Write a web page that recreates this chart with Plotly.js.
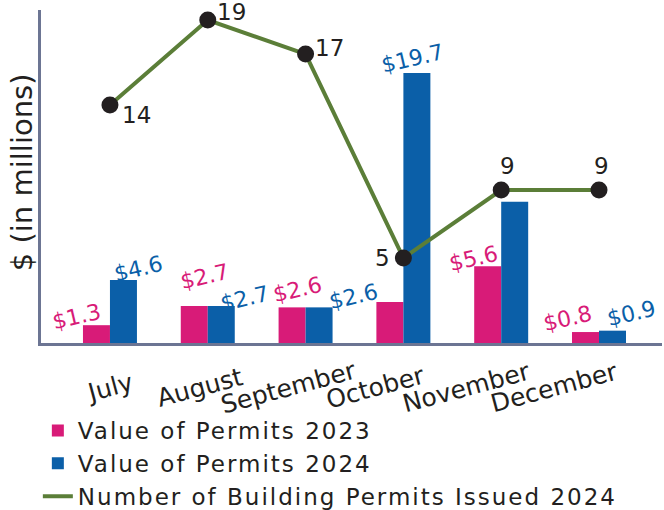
<!DOCTYPE html>
<html>
<head>
<meta charset="utf-8">
<script src="https://cdn.plot.ly/plotly-3.0.1.min.js"></script>
<style>
html,body{margin:0;padding:0;background:#fff;}
.legendtext{letter-spacing:2px;}
</style>
</head>
<body>
<div id="chart" style="width:664px;height:510px;"></div>
<script>
// ---- data ----
const months = ['July', 'August', 'September', 'October', 'November', 'December'];
const value2023 = [1.3, 2.7, 2.6, 3.0, 5.6, 0.8];
const value2024 = [4.6, 2.7, 2.6, 19.7, 10.3, 0.9];
const permitsIssued2024 = [14, 19, 17, 5, 9, 9];
const labels2023 = ['$1.3', '$2.7', '$2.6', '', '$5.6', '$0.8'];
const labels2024 = ['$4.6', '$2.7', '$2.6', '$19.7', '', '$0.9'];
const seriesNames = ['Value of Permits 2023', 'Value of Permits 2024', 'Number of Building Permits Issued 2024'];
const yTitle = '$ (in millions)';

// ---- styles / label placement (pixels) ----
const PINK = '#d81b78', BLUE = '#0b5fa8', GREEN = '#5b7e38', INK = '#231f20', AXIS = '#6c7593';
const FONT = 'DejaVu Sans, sans-serif';
const nudge2023 = {dx: [-33, -3, -8, 0, -28, -32], dy: [9, 30, 18, 0, 8, 14]};
const nudge2024 = {dx: [29, 37, 48, 9, 0, 32], dy: [11, 8, 11, 15, 0, 17]};
const nudgeCount = {dx: [27, 24, 24, -21, 6, 2], dy: [-10, 8, 6, 0, 24, 24]};
const tickNudge = [0, -8, -17, -28, -35, -45];

const traces = [
  {type: 'bar', name: seriesNames[0], x: months, y: value2023, marker: {color: PINK}, hoverinfo: 'none'},
  {type: 'bar', name: seriesNames[1], x: months, y: value2024, marker: {color: BLUE}, hoverinfo: 'none'},
  {type: 'scatter', mode: 'lines', name: seriesNames[2], x: months, y: permitsIssued2024,
   yaxis: 'y2', line: {color: GREEN, width: 4}, hoverinfo: 'none'},
  {type: 'scatter', mode: 'markers', showlegend: false, x: months, y: permitsIssued2024,
   yaxis: 'y2', marker: {color: INK, size: 17}, cliponaxis: false, hoverinfo: 'none'}
];

const annotations = [];
months.forEach((m, i) => {
  if (labels2023[i]) annotations.push({x: m, y: value2023[i], xref: 'x', yref: 'y', text: labels2023[i],
    showarrow: false, textangle: -13, xshift: nudge2023.dx[i], yshift: nudge2023.dy[i], xanchor: 'center', yanchor: 'middle',
    font: {family: FONT, size: 22, color: PINK}});
  if (labels2024[i]) annotations.push({x: m, y: value2024[i], xref: 'x', yref: 'y', text: labels2024[i],
    showarrow: false, textangle: -13, xshift: nudge2024.dx[i], yshift: nudge2024.dy[i], xanchor: 'center', yanchor: 'middle',
    font: {family: FONT, size: 22, color: BLUE}});
  annotations.push({x: m, y: permitsIssued2024[i], xref: 'x', yref: 'y2', text: String(permitsIssued2024[i]),
    showarrow: false, xshift: nudgeCount.dx[i], yshift: nudgeCount.dy[i], xanchor: 'center', yanchor: 'middle',
    font: {family: FONT, size: 23, color: INK}});
  annotations.push({x: m, y: 0, xref: 'x', yref: 'paper', text: m, showarrow: false, textangle: -15,
    xshift: tickNudge[i], yshift: -44, xanchor: 'center', yanchor: 'middle',
    font: {family: FONT, size: 25, color: INK}});
});
annotations.push({x: -0.0306, y: 0.513, xref: 'paper', yref: 'paper', text: yTitle, showarrow: false,
  textangle: -90, xanchor: 'center', yanchor: 'middle', font: {family: FONT, size: 29, color: INK}});

const layout = {
  width: 664, height: 510,
  margin: {l: 41, r: 2, t: 10, b: 167, pad: 0, autoexpand: false},
  paper_bgcolor: '#fff', plot_bgcolor: '#fff',
  barmode: 'group', bargap: 0.448, bargroupgap: 0,
  showlegend: true,
  legend: {xref: 'container', yref: 'container', x: 0.057, y: 0.198, xanchor: 'left', yanchor: 'top',
           orientation: 'v', traceorder: 'normal',
           font: {family: FONT, size: 23, color: INK}, bgcolor: 'rgba(0,0,0,0)', tracegroupgap: 0},
  xaxis: {type: 'category', range: [-0.705, 5.644], showticklabels: false, ticks: '', showgrid: false,
          zeroline: false, showline: true, linecolor: AXIS, linewidth: 3, fixedrange: true},
  yaxis: {range: [0, 24.3], showticklabels: false, ticks: '', showgrid: false, zeroline: false,
          showline: true, linecolor: AXIS, linewidth: 3},
  yaxis2: {range: [0, 19.59], overlaying: 'y', side: 'right', visible: false, showgrid: false, zeroline: false},
  annotations: annotations,
  font: {family: FONT, color: INK}
};

Plotly.newPlot('chart', traces, layout, {displayModeBar: false, staticPlot: true});
</script>
</body>
</html>
